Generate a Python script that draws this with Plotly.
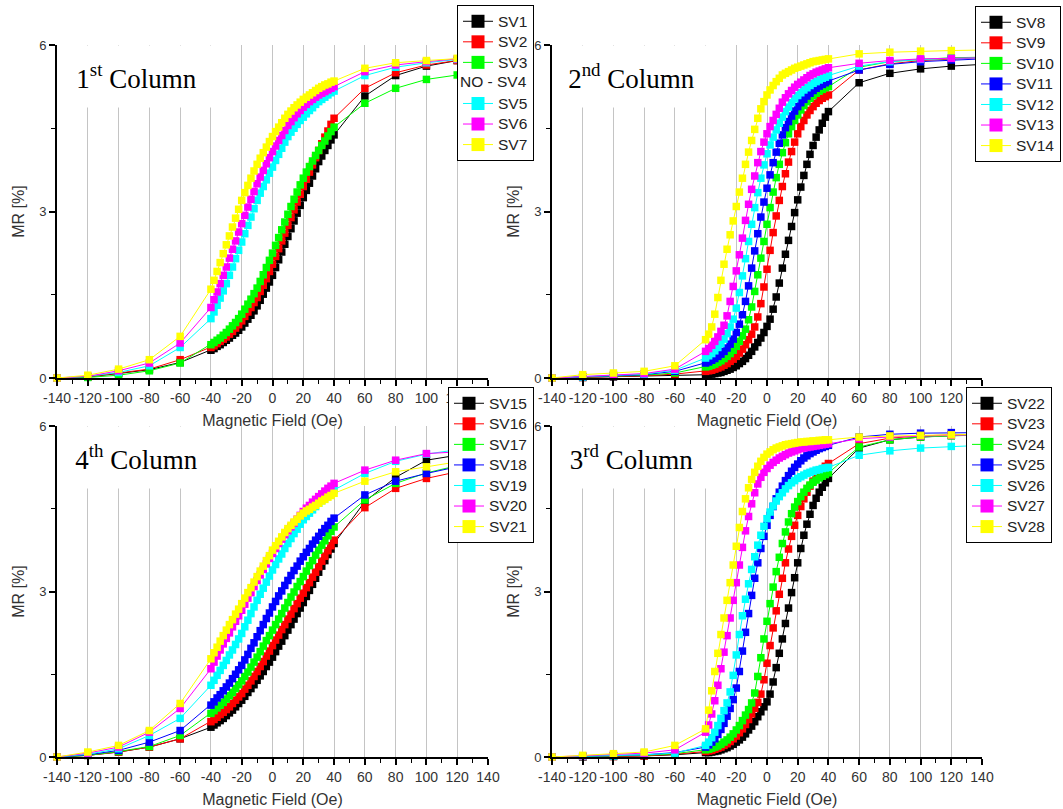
import plotly.graph_objects as go

# Applied field sweep (Oe): coarse steps in the tails, 2 Oe steps through the switching region
FIELD_OE = [-140, -120, -100, -80, -60,
            -40, -38, -36, -34, -32, -30, -28, -26, -24, -22, -20, -18, -16, -14, -12, -10,
            -8, -6, -4, -2, 0, 2, 4, 6, 8, 10, 12, 14, 16, 18, 20, 22, 24, 26, 28, 30,
            32, 34, 36, 38, 40,
            60, 80, 100, 120, 140]

X_TICKS = [-140, -120, -100, -80, -60, -40, -20, 0, 20, 40, 60, 80, 100, 120, 140]
X_TICK_TEXT = ["-140", "-120", "-100", "-80", "-60", "-40", "-20", "0", "20", "40",
               "60", "80", "100", "120", "140"]
Y_TICKS = [0, 3, 6]
Y_TICK_TEXT = ["0", "3", "6"]

# ---- 1st column: SV1..SV7 (SV4 not measured) ----
SV1 = [0.00, 0.02, 0.08, 0.15, 0.28,
       0.50, 0.53, 0.57, 0.60, 0.64, 0.68, 0.72, 0.77, 0.81, 0.86, 0.92, 0.99, 1.06, 1.13, 1.21, 1.30,
       1.40, 1.51, 1.62, 1.73, 1.85, 1.99, 2.13, 2.27, 2.41, 2.55, 2.69, 2.83, 2.97, 3.11, 3.25, 3.38, 3.51, 3.64, 3.77, 3.90,
       4.00, 4.10, 4.19, 4.29, 4.38,
       5.08, 5.45, 5.62, 5.72, 5.78]
SV2 = [0.00, 0.02, 0.09, 0.16, 0.33,
       0.55, 0.58, 0.62, 0.66, 0.70, 0.74, 0.79, 0.84, 0.90, 0.96, 1.03, 1.11, 1.19, 1.27, 1.36, 1.45,
       1.56, 1.67, 1.79, 1.92, 2.05, 2.19, 2.33, 2.47, 2.61, 2.75, 2.89, 3.03, 3.17, 3.31, 3.45, 3.58, 3.71, 3.84, 3.97, 4.10,
       4.22, 4.34, 4.45, 4.57, 4.68,
       5.22, 5.50, 5.64, 5.72, 5.78]
SV3 = [0.00, 0.01, 0.05, 0.13, 0.27,
       0.60, 0.64, 0.68, 0.72, 0.77, 0.82, 0.88, 0.94, 1.00, 1.07, 1.15, 1.24, 1.33, 1.42, 1.52, 1.62,
       1.74, 1.86, 1.99, 2.12, 2.25, 2.39, 2.53, 2.67, 2.81, 2.95, 3.09, 3.22, 3.35, 3.48, 3.60, 3.71, 3.81, 3.91, 4.01, 4.10,
       4.19, 4.27, 4.36, 4.44, 4.52,
       4.95, 5.22, 5.38, 5.46, 5.52]
SV5 = [0.00, 0.03, 0.10, 0.22, 0.55,
       1.07, 1.19, 1.31, 1.44, 1.57, 1.70, 1.85, 2.00, 2.15, 2.30, 2.45, 2.60, 2.75, 2.90, 3.05, 3.20,
       3.33, 3.45, 3.57, 3.69, 3.80, 3.92, 4.03, 4.14, 4.25, 4.35, 4.43, 4.50, 4.57, 4.64, 4.70, 4.76, 4.82, 4.87, 4.93, 4.98,
       5.02, 5.06, 5.10, 5.14, 5.17,
       5.45, 5.60, 5.68, 5.74, 5.78]
SV6 = [0.00, 0.03, 0.13, 0.27, 0.63,
       1.27, 1.41, 1.55, 1.70, 1.85, 2.00, 2.16, 2.32, 2.47, 2.63, 2.78, 2.93, 3.08, 3.22, 3.36, 3.50,
       3.62, 3.74, 3.86, 3.97, 4.08, 4.18, 4.28, 4.37, 4.46, 4.55, 4.62, 4.69, 4.76, 4.82, 4.88, 4.93, 4.98, 5.02, 5.06, 5.10,
       5.13, 5.16, 5.19, 5.22, 5.25,
       5.52, 5.64, 5.70, 5.75, 5.78]
SV7 = [0.00, 0.05, 0.16, 0.33, 0.75,
       1.60, 1.76, 1.92, 2.08, 2.24, 2.40, 2.56, 2.72, 2.88, 3.04, 3.20, 3.34, 3.47, 3.60, 3.73, 3.85,
       3.96, 4.06, 4.16, 4.26, 4.35, 4.44, 4.52, 4.60, 4.68, 4.75, 4.81, 4.87, 4.92, 4.97, 5.02, 5.06, 5.10, 5.14, 5.18, 5.22,
       5.25, 5.28, 5.30, 5.33, 5.35,
       5.58, 5.68, 5.72, 5.76, 5.79]

# ---- 2nd column: SV8..SV14 ----
SV8 = [0.00, 0.01, 0.02, 0.03, 0.05,
       0.06, 0.06, 0.07, 0.08, 0.09, 0.10, 0.12, 0.14, 0.16, 0.19, 0.22, 0.26, 0.30, 0.35, 0.41, 0.48,
       0.56, 0.64, 0.72, 0.82, 0.93, 1.06, 1.24, 1.46, 1.71, 1.98, 2.23, 2.48, 2.73, 2.98, 3.21, 3.44, 3.65, 3.85, 4.03, 4.19,
       4.34, 4.47, 4.59, 4.70, 4.80,
       5.32, 5.49, 5.57, 5.62, 5.65]
SV9 = [0.00, 0.01, 0.03, 0.04, 0.07,
       0.12, 0.13, 0.14, 0.16, 0.18, 0.20, 0.23, 0.26, 0.30, 0.34, 0.39, 0.45, 0.52, 0.60, 0.69, 0.79,
       0.92, 1.10, 1.34, 1.64, 1.96, 2.30, 2.62, 2.92, 3.20, 3.45, 3.68, 3.89, 4.08, 4.25, 4.40, 4.53, 4.64, 4.74, 4.82, 4.89,
       4.95, 5.00, 5.04, 5.07, 5.10,
       5.55, 5.66, 5.72, 5.75, 5.77]
SV10 = [0.00, 0.02, 0.04, 0.05, 0.09,
        0.20, 0.21, 0.23, 0.25, 0.28, 0.31, 0.35, 0.39, 0.44, 0.50, 0.57, 0.66, 0.76, 0.88, 1.05, 1.28,
        1.56, 1.86, 2.16, 2.46, 2.77, 3.07, 3.35, 3.61, 3.85, 4.06, 4.24, 4.40, 4.53, 4.64, 4.74, 4.83, 4.91, 4.98, 5.04, 5.09,
        5.13, 5.17, 5.20, 5.23, 5.25,
        5.60, 5.70, 5.74, 5.77, 5.78]
SV11 = [0.00, 0.02, 0.03, 0.06, 0.12,
        0.27, 0.29, 0.32, 0.35, 0.39, 0.43, 0.48, 0.54, 0.61, 0.70, 0.82, 0.97, 1.14, 1.38, 1.66, 1.98,
        2.29, 2.60, 2.90, 3.17, 3.42, 3.66, 3.88, 4.07, 4.23, 4.38, 4.51, 4.62, 4.72, 4.81, 4.89, 4.96, 5.02, 5.08, 5.13, 5.18,
        5.22, 5.26, 5.29, 5.32, 5.35,
        5.55, 5.65, 5.70, 5.73, 5.75]
SV12 = [0.00, 0.02, 0.05, 0.07, 0.14,
        0.36, 0.40, 0.44, 0.49, 0.55, 0.62, 0.70, 0.80, 0.92, 1.06, 1.26, 1.54, 1.84, 2.15, 2.46, 2.77,
        3.07, 3.34, 3.60, 3.84, 4.04, 4.20, 4.34, 4.47, 4.59, 4.70, 4.80, 4.88, 4.96, 5.03, 5.09, 5.14, 5.19, 5.23, 5.27, 5.31,
        5.34, 5.37, 5.40, 5.42, 5.45,
        5.62, 5.70, 5.74, 5.76, 5.77]
SV13 = [0.00, 0.03, 0.06, 0.08, 0.16,
        0.48, 0.53, 0.59, 0.66, 0.74, 0.84, 0.95, 1.12, 1.38, 1.65, 1.93, 2.22, 2.52, 2.84, 3.13, 3.40,
        3.64, 3.88, 4.08, 4.25, 4.40, 4.53, 4.64, 4.75, 4.86, 4.97, 5.05, 5.12, 5.18, 5.24, 5.29, 5.33, 5.37, 5.41, 5.45, 5.48,
        5.51, 5.53, 5.55, 5.57, 5.59,
        5.67, 5.72, 5.75, 5.76, 5.77]
SV14 = [0.00, 0.06, 0.09, 0.12, 0.22,
        0.69, 0.79, 0.92, 1.15, 1.45, 1.76, 2.05, 2.32, 2.58, 2.83, 3.09, 3.35, 3.60, 3.85, 4.07, 4.28,
        4.48, 4.68, 4.85, 4.98, 5.10, 5.19, 5.27, 5.34, 5.40, 5.46, 5.49, 5.52, 5.55, 5.58, 5.60, 5.62, 5.64, 5.66, 5.68, 5.70,
        5.71, 5.72, 5.73, 5.74, 5.75,
        5.84, 5.87, 5.89, 5.90, 5.91]

# ---- 4th column: SV15..SV21 ----
SV15 = [0.00, 0.03, 0.09, 0.18, 0.33,
        0.54, 0.58, 0.62, 0.66, 0.70, 0.75, 0.80, 0.85, 0.91, 0.97, 1.03, 1.10, 1.17, 1.24, 1.31, 1.39,
        1.47, 1.55, 1.64, 1.72, 1.81, 1.91, 2.01, 2.10, 2.20, 2.30, 2.40, 2.50, 2.60, 2.70, 2.80, 2.91, 3.02, 3.13, 3.24, 3.35,
        3.46, 3.56, 3.67, 3.77, 3.87,
        4.63, 5.07, 5.38, 5.47, 5.53]
SV16 = [0.00, 0.03, 0.09, 0.18, 0.33,
        0.64, 0.68, 0.72, 0.77, 0.81, 0.86, 0.91, 0.97, 1.03, 1.09, 1.15, 1.23, 1.30, 1.38, 1.46, 1.55,
        1.64, 1.73, 1.83, 1.92, 2.02, 2.12, 2.21, 2.31, 2.40, 2.50, 2.59, 2.69, 2.78, 2.88, 2.97, 3.07, 3.16, 3.26, 3.35, 3.45,
        3.55, 3.64, 3.74, 3.83, 3.93,
        4.52, 4.87, 5.05, 5.17, 5.25]
SV17 = [0.00, 0.03, 0.10, 0.19, 0.39,
        0.79, 0.84, 0.89, 0.94, 0.99, 1.05, 1.11, 1.17, 1.24, 1.31, 1.38, 1.46, 1.54, 1.63, 1.72, 1.81,
        1.91, 2.01, 2.11, 2.20, 2.30, 2.40, 2.50, 2.60, 2.70, 2.80, 2.90, 2.99, 3.09, 3.18, 3.27, 3.37, 3.47, 3.56, 3.66, 3.75,
        3.84, 3.92, 4.01, 4.09, 4.17,
        4.66, 4.96, 5.15, 5.28, 5.36]
SV18 = [0.00, 0.04, 0.12, 0.27, 0.48,
        0.94, 1.00, 1.07, 1.13, 1.20, 1.27, 1.34, 1.42, 1.50, 1.58, 1.66, 1.76, 1.86, 1.97, 2.07, 2.18,
        2.29, 2.40, 2.51, 2.61, 2.72, 2.82, 2.92, 3.01, 3.11, 3.20, 3.29, 3.38, 3.46, 3.55, 3.63, 3.71, 3.78, 3.86, 3.93, 4.00,
        4.07, 4.14, 4.20, 4.27, 4.33,
        4.75, 5.00, 5.14, 5.26, 5.33]
SV19 = [0.00, 0.05, 0.15, 0.39, 0.70,
        1.30, 1.39, 1.48, 1.57, 1.66, 1.75, 1.85, 1.94, 2.04, 2.14, 2.24, 2.36, 2.48, 2.60, 2.72, 2.84,
        2.95, 3.06, 3.17, 3.28, 3.39, 3.49, 3.59, 3.68, 3.78, 3.87, 3.96, 4.05, 4.13, 4.22, 4.30, 4.36, 4.42, 4.48, 4.54, 4.60,
        4.65, 4.70, 4.75, 4.79, 4.84,
        5.14, 5.36, 5.49, 5.57, 5.62]
SV20 = [0.00, 0.07, 0.18, 0.45, 0.88,
        1.60, 1.72, 1.83, 1.94, 2.05, 2.15, 2.25, 2.36, 2.46, 2.56, 2.66, 2.77, 2.88, 2.98, 3.09, 3.20,
        3.30, 3.40, 3.50, 3.60, 3.69, 3.78, 3.87, 3.95, 4.03, 4.10, 4.17, 4.24, 4.31, 4.38, 4.45, 4.51, 4.56, 4.62, 4.67, 4.72,
        4.77, 4.82, 4.87, 4.91, 4.96,
        5.20, 5.38, 5.50, 5.53, 5.58]
SV21 = [0.00, 0.09, 0.21, 0.48, 0.97,
        1.78, 1.89, 1.99, 2.10, 2.20, 2.30, 2.40, 2.49, 2.59, 2.68, 2.78, 2.88, 2.98, 3.07, 3.17, 3.27,
        3.37, 3.46, 3.56, 3.65, 3.75, 3.83, 3.91, 3.99, 4.07, 4.14, 4.20, 4.26, 4.31, 4.37, 4.42, 4.46, 4.49, 4.53, 4.56, 4.60,
        4.64, 4.67, 4.71, 4.74, 4.78,
        5.00, 5.17, 5.26, 5.35, 5.42]

# ---- 3rd column: SV22..SV28 ----
SV22 = [0.00, 0.00, 0.01, 0.02, 0.04,
        0.08, 0.08, 0.09, 0.10, 0.11, 0.13, 0.15, 0.17, 0.20, 0.23, 0.27, 0.31, 0.36, 0.42, 0.49, 0.56,
        0.64, 0.73, 0.82, 0.91, 1.00, 1.14, 1.36, 1.62, 1.88, 2.14, 2.42, 2.70, 2.98, 3.25, 3.52, 3.78, 4.02, 4.22, 4.40, 4.56,
        4.69, 4.80, 4.89, 4.97, 5.05,
        5.60, 5.75, 5.80, 5.83, 5.85]
SV23 = [0.00, 0.00, 0.01, 0.02, 0.05,
        0.10, 0.11, 0.12, 0.14, 0.16, 0.18, 0.21, 0.24, 0.28, 0.33, 0.38, 0.44, 0.51, 0.59, 0.68, 0.78,
        0.88, 0.99, 1.14, 1.40, 1.70, 2.02, 2.34, 2.65, 2.95, 3.24, 3.52, 3.77, 4.00, 4.20, 4.38, 4.54, 4.68, 4.80, 4.91, 5.00,
        5.08, 5.15, 5.21, 5.27, 5.32,
        5.68, 5.78, 5.82, 5.84, 5.85]
SV24 = [0.00, 0.01, 0.02, 0.03, 0.06,
        0.13, 0.14, 0.16, 0.18, 0.20, 0.23, 0.27, 0.31, 0.36, 0.42, 0.49, 0.57, 0.66, 0.76, 0.86, 0.98,
        1.16, 1.46, 1.80, 2.14, 2.46, 2.78, 3.08, 3.36, 3.62, 3.87, 4.08, 4.26, 4.41, 4.53, 4.63, 4.72, 4.80, 4.87, 4.93, 4.98,
        5.02, 5.06, 5.09, 5.12, 5.15,
        5.62, 5.75, 5.80, 5.82, 5.84]
SV25 = [0.00, 0.01, 0.02, 0.04, 0.08,
        0.18, 0.22, 0.27, 0.33, 0.41, 0.50, 0.61, 0.74, 0.88, 1.04, 1.25, 1.55, 1.92, 2.26, 2.60, 2.93,
        3.24, 3.52, 3.78, 4.00, 4.20, 4.38, 4.54, 4.68, 4.80, 4.91, 5.01, 5.10, 5.18, 5.25, 5.31, 5.37, 5.42, 5.46, 5.50, 5.53,
        5.56, 5.59, 5.61, 5.63, 5.65,
        5.80, 5.85, 5.87, 5.88, 5.88]
SV26 = [0.00, 0.01, 0.02, 0.04, 0.07,
        0.21, 0.27, 0.35, 0.45, 0.57, 0.70, 0.84, 0.98, 1.18, 1.48, 1.85, 2.22, 2.56, 2.86, 3.14, 3.40,
        3.63, 3.84, 4.02, 4.18, 4.32, 4.44, 4.55, 4.64, 4.72, 4.79, 4.86, 4.92, 4.97, 5.01, 5.05, 5.08, 5.11, 5.14, 5.16, 5.18,
        5.20, 5.21, 5.23, 5.24, 5.25,
        5.47, 5.55, 5.60, 5.63, 5.65]
SV27 = [0.00, 0.02, 0.04, 0.07, 0.13,
        0.45, 0.58, 0.78, 1.02, 1.30, 1.60, 1.90, 2.20, 2.52, 2.84, 3.16, 3.48, 3.80, 4.10, 4.36, 4.59,
        4.79, 4.95, 5.07, 5.16, 5.23, 5.29, 5.34, 5.38, 5.42, 5.45, 5.48, 5.51, 5.53, 5.55, 5.57, 5.59, 5.60, 5.61, 5.62, 5.63,
        5.64, 5.65, 5.66, 5.67, 5.68,
        5.77, 5.80, 5.82, 5.83, 5.84]
SV28 = [0.00, 0.03, 0.06, 0.09, 0.21,
        0.51, 0.85, 1.20, 1.55, 1.88, 2.22, 2.52, 2.84, 3.16, 3.48, 3.82, 4.16, 4.45, 4.68, 4.88, 5.03,
        5.16, 5.27, 5.36, 5.43, 5.49, 5.53, 5.57, 5.60, 5.62, 5.64, 5.66, 5.67, 5.68, 5.69, 5.70, 5.71, 5.71, 5.72, 5.72, 5.73,
        5.73, 5.74, 5.74, 5.75, 5.75,
        5.80, 5.82, 5.83, 5.84, 5.85]

BLACK, RED, GREEN, BLUE = "#000000", "#ff0000", "#00ff00", "#0000ff"
CYAN, MAGENTA, YELLOW = "#00ffff", "#ff00ff", "#ffff00"

# (axis suffix, legend id, panel label, [(name, values, colour), ...])
PANELS = [
    ("", "legend", "1<sup>st</sup> Column",
     [("SV1", SV1, BLACK), ("SV2", SV2, RED), ("SV3", SV3, GREEN), ("NO - SV4", None, None),
      ("SV5", SV5, CYAN), ("SV6", SV6, MAGENTA), ("SV7", SV7, YELLOW)]),
    ("2", "legend2", "2<sup>nd</sup> Column",
     [("SV8", SV8, BLACK), ("SV9", SV9, RED), ("SV10", SV10, GREEN), ("SV11", SV11, BLUE),
      ("SV12", SV12, CYAN), ("SV13", SV13, MAGENTA), ("SV14", SV14, YELLOW)]),
    ("3", "legend3", "4<sup>th</sup> Column",
     [("SV15", SV15, BLACK), ("SV16", SV16, RED), ("SV17", SV17, GREEN), ("SV18", SV18, BLUE),
      ("SV19", SV19, CYAN), ("SV20", SV20, MAGENTA), ("SV21", SV21, YELLOW)]),
    ("4", "legend4", "3<sup>rd</sup> Column",
     [("SV22", SV22, BLACK), ("SV23", SV23, RED), ("SV24", SV24, GREEN), ("SV25", SV25, BLUE),
      ("SV26", SV26, CYAN), ("SV27", SV27, MAGENTA), ("SV28", SV28, YELLOW)]),
]

for _, _, _, series in PANELS:
    for name, vals, _ in series:
        if vals is not None:
            assert len(vals) == len(FIELD_OE), name

W, H = 1063, 809
SANS = "Liberation Sans, Arial, sans-serif"
SERIF = "Liberation Serif, Times New Roman, serif"
LEGEND_ROW_FONT = 13.5      # sets the row pitch of the legend
LEGEND_TEXT_PX = 15.5      # size the entry names are drawn at

fig = go.Figure()

# measured curves
for suffix, legend_id, _, series in PANELS:
    for name, vals, color in series:
        if vals is None:
            continue
        fig.add_trace(go.Scatter(
            x=FIELD_OE, y=vals, mode="lines+markers", name=name,
            xaxis="x" + suffix, yaxis="y" + suffix,
            line=dict(color=color, width=1),
            marker=dict(symbol="square", size=7.5, color=color, line=dict(width=0)),
            cliponaxis=False, showlegend=False, hoverinfo="skip",
        ))

# legend entries (larger swatches than the plotted markers)
for suffix, legend_id, _, series in PANELS:
    for name, vals, color in series:
        if vals is None:
            fig.add_trace(go.Scatter(
                x=[None], y=[None], mode="lines", name=" ", legend=legend_id,
                xaxis="x" + suffix, yaxis="y" + suffix,
                line=dict(color="rgba(0,0,0,0)", width=0), showlegend=True))
        else:
            fig.add_trace(go.Scatter(
                x=[None], y=[None], mode="lines+markers",
                name=f"<span style='font-size:{LEGEND_TEXT_PX}px'>{name}</span>",
                legend=legend_id,
                xaxis="x" + suffix, yaxis="y" + suffix,
                line=dict(color=color, width=1),
                marker=dict(symbol="square", size=13, color=color, line=dict(width=0)),
                showlegend=True))

x_domains = {"": [57 / W, 488 / W], "2": [552 / W, 982 / W],
             "3": [57 / W, 488 / W], "4": [552 / W, 982 / W]}
y_domains = {"": [1 - 378 / H, 1 - 45 / H], "2": [1 - 378 / H, 1 - 45 / H],
             "3": [1 - 757 / H, 1 - 426 / H], "4": [1 - 757 / H, 1 - 426 / H]}

layout = dict(
    width=W, height=H,
    margin=dict(l=0, r=0, t=0, b=0, autoexpand=False),
    paper_bgcolor="white", plot_bgcolor="white",
    font=dict(family=SANS, color="#333"),
    showlegend=True,
)

for suffix, _, _, _ in PANELS:
    layout["xaxis" + suffix] = dict(
        domain=x_domains[suffix], anchor="y" + suffix, range=[-140, 140],
        tickmode="array", tickvals=X_TICKS, ticktext=X_TICK_TEXT,
        ticks="outside", ticklen=6, tickwidth=1.5, tickcolor="black",
        minor=dict(dtick=10, tick0=0, ticks="outside", ticklen=4, tickwidth=1.2,
                   tickcolor="black", showgrid=False),
        showgrid=True, gridcolor="#c4c4c4", gridwidth=1,
        zeroline=False, showline=True, linecolor="black", linewidth=2,
        tickfont=dict(size=14, color="#333"),
        title=dict(text="Magnetic Field (Oe)", font=dict(size=16, color="#333"), standoff=10),
        automargin=False, fixedrange=True,
    )
    layout["yaxis" + suffix] = dict(
        domain=y_domains[suffix], anchor="x" + suffix, range=[0, 6],
        tickmode="array", tickvals=Y_TICKS, ticktext=Y_TICK_TEXT,
        ticks="outside", ticklen=6, tickwidth=1.5, tickcolor="black",
        minor=dict(dtick=1.5, tick0=0, ticks="outside", ticklen=4, tickwidth=1.2,
                   tickcolor="black", showgrid=False),
        showgrid=False, zeroline=False, showline=True, linecolor="black", linewidth=2,
        tickfont=dict(size=13, color="#333"),
        title=dict(text="MR [%]", font=dict(size=16, color="#333"), standoff=11),
        automargin=False, fixedrange=True,
    )


def legend_box(x_px, y_px):
    return dict(x=x_px / W, y=1 - y_px / H, xanchor="left", yanchor="top",
                bgcolor="white", bordercolor="black", borderwidth=1,
                font=dict(family=SANS, size=LEGEND_ROW_FONT, color="#222"),
                tracegroupgap=0, traceorder="normal")


layout["legend"] = legend_box(457, 5)
layout["legend2"] = legend_box(975, 6)
layout["legend3"] = legend_box(448, 387)
layout["legend4"] = legend_box(966, 387)

annotations = []
for suffix, _, label, _ in PANELS:
    annotations.append(dict(
        text=label, xref="x" + suffix, yref="y" + suffix, x=-139.2, y=6,
        xanchor="left", yanchor="top", showarrow=False,
        width=155, height=61, align="center", valign="middle",
        bgcolor="white", borderpad=0,
        font=dict(family=SERIF, size=27, color="black"),
    ))
# label for the missing sample, written inside the first legend box
annotations.append(dict(
    text="NO - SV4", xref="paper", yref="paper", x=458 / W, y=1 - 81 / H,
    xanchor="left", yanchor="middle", showarrow=False,
    font=dict(family=SANS, size=LEGEND_TEXT_PX, color="#222"),
))
layout["annotations"] = annotations

fig.update_layout(**layout)
fig.write_html("out.html")
